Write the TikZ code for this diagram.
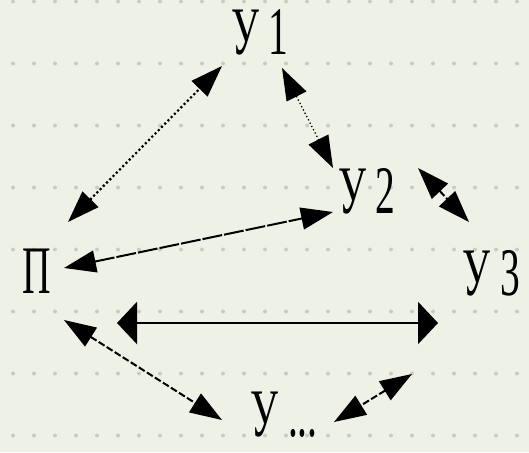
\documentclass[tikz,border=0pt]{standalone}
\usepackage{fontspec}
\newfontfamily\lblfont[FakeStretch=0.58]{Liberation Serif}
\usetikzlibrary{arrows.meta}

\definecolor{paper}{RGB}{238,242,230}
\definecolor{gridpt}{RGB}{200,203,194}

\begin{document}
\begin{tikzpicture}[
                x=1pt, y=-1pt,
                every node/.style={font=\lblfont\fontsize{68}{70}\selectfont, inner sep=0pt, anchor=base},
                >={Triangle[length=32pt,width=22pt]},
                dotlink/.style={<->, line width=2.2pt, dash pattern=on 2.2pt off 2.4pt},
                thinlink/.style={<->, line width=1.3pt, dash pattern=on 1.3pt off 2.4pt},
                dashlink/.style={<->, line width=2pt, dash pattern=on 7pt off 2.5pt},
                longlink/.style={<->, line width=2pt, dash pattern=on 20pt off 2pt},
                widelink/.style={{Triangle[length=20pt,width=42pt]}-{Triangle[length=20pt,width=42pt]}, line width=2.6pt}
            ]

            \useasboundingbox (0,0) rectangle (529,452);
            \fill[paper] (0,0) rectangle (529,452);
            \foreach \r in {0,...,7}
                \foreach \c in {0,...,24}
                    \fill[gridpt] ({13+21*\c},{1.5+62*\r}) circle (2pt);

            \node (U1) at (260,55) {У 1};
            \node (U2) at (367,213) {У 2};
            \node (U3) at (491,295) {У 3};
            \node (P) at (37,293) {П};
            \node (Un) at (284,436) {У ...};

            % arrow ends next to the labels
            \coordinate (P-U1) at (68,222);
            \coordinate (U1-P) at (222,66);
            \coordinate (U1-U2) at (282,68);
            \coordinate (U2-U1) at (333,168);
            \coordinate (U2-U3) at (418,168);
            \coordinate (U3-U2) at (469,222);
            \coordinate (P-U2) at (64,268);
            \coordinate (U2-P) at (333,212);
            \coordinate (P-U3) at (117,323);
            \coordinate (U3-P) at (438,323);
            \coordinate (P-Un) at (64,320);
            \coordinate (Un-P) at (222,420);
            \coordinate (U3-Un) at (412,374);
            \coordinate (Un-U3) at (334,422);

            \draw[dotlink] (P-U1) -- (U1-P);
            \draw[thinlink] (U1-U2) -- (U2-U1);
            \draw[dashlink] (U2-U3) -- (U3-U2);
            \draw[longlink] (P-U2) -- (U2-P);
            \draw[widelink] (P-U3) -- (U3-P);
            \draw[dashlink] (P-Un) -- (Un-P);
            \draw[dashlink] (U3-Un) -- (Un-U3);

        \end{tikzpicture}
\end{document}
